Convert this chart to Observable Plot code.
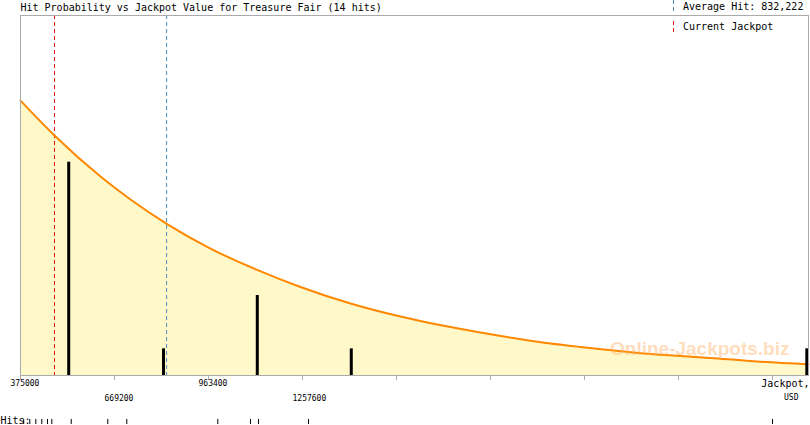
<!DOCTYPE html>
<html>
<head>
<meta charset="utf-8">
<script src="https://cdn.jsdelivr.net/npm/d3@7"></script>
<script src="https://cdn.jsdelivr.net/npm/@observablehq/plot@0.6"></script>
<style>
  html, body { margin: 0; padding: 0; background: #fff; }
  #wrap { position: relative; width: 810px; height: 425px; overflow: hidden; font-family: "DejaVu Sans Mono", monospace; }
  #wrap svg.plot { position: absolute; left: 0; top: 0; }
</style>
</head>
<body>
<div id="wrap"></div>
<script>
// ---- data ----
const titleText = "Hit Probability vs Jackpot Value for Treasure Fair (14 hits)";
const averageHit = 832222;
const currentJackpot = 481400;

// individual hits (jackpot value, USD)
const hits = [385000, 404100, 422900, 441700, 459500, 473000, 533700, 648200,
              707700, 992500, 1094800, 1119900, 1276400, 2728600];

// histogram bars (bin centre, count)
const binCenters = [525900, 822600, 1116100, 1410300, 2836000];
const binCounts  = [8, 1, 3, 1, 1];

// probability curve (jackpot value, expected-hit scale)
const curveX = [375000, 481400, 625400, 719300, 835100, 969700, 1113600, 1251300,
                1407800, 1564300, 1814700, 2033800, 2127700, 2346800, 2534400, 2659800, 2841300];
const curveY = [10.31, 9.00, 7.46, 6.60, 5.67, 4.76, 3.97, 3.32,
                2.70, 2.21, 1.61, 1.20, 1.07, 0.81, 0.66, 0.54, 0.42];

// axis ticks
const tickValues = [375000, 669200, 963400, 1257600, 1551800, 1846000, 2140200, 2434400, 2728600];
const tickLabels = ["375000", "669200", "963400", "1257600", "", "", "", "", ""];
const axisTitle1 = "Jackpot,";
const axisTitle2 = "USD";
const hitsLabel = "Hits:";
const watermark = "Online-Jackpots.biz";

// ---- build ----
const curve = curveX.map((x, i) => ({x, y: curveY[i]}));
const bars = binCenters.map((x, i) => ({x, n: binCounts[i]}));
const ticks = tickValues.map((v, i) => ({v, label: tickLabels[i], row: i % 2}));

const mono = "DejaVu Sans Mono";

const chart = Plot.plot({
  width: 810,
  height: 425,
  marginLeft: 20,
  marginRight: 2,
  marginTop: 15,
  marginBottom: 50,
  x: {domain: [375000, 2841300], axis: null},
  y: {domain: [0, 13.5], axis: null},
  style: {fontFamily: mono, fontSize: "10px", background: "white", overflow: "visible", color: "black"},
  marks: [
    Plot.areaY(curve, {x: "x", y: "y", fill: "#fff8c8", curve: "monotone-x"}),
    Plot.ruleX([currentJackpot], {stroke: "#dd1111", strokeWidth: 1, strokeDasharray: "4,3"}),
    Plot.ruleX([averageHit], {stroke: "#4a90c0", strokeWidth: 1, strokeDasharray: "4,3"}),
    Plot.line(curve, {x: "x", y: "y", stroke: "#ff8800", strokeWidth: 2, curve: "monotone-x"}),
    Plot.ruleX(bars, {x: "x", y1: 0, y2: "n", stroke: "black", strokeWidth: 3}),
    Plot.text([watermark], {frameAnchor: "bottom-right", text: d => d, textAnchor: "end", lineAnchor: "bottom",
      dx: -19, dy: -21, fontFamily: "Liberation Sans", fontWeight: "bold", fontSize: 19, fill: "#ffb366", fillOpacity: 0.45}),
    Plot.frame({stroke: "#aaaaaa"}),
    // axis ticks
    Plot.ruleX(tickValues, {stroke: "#aaaaaa", insetTop: 360, insetBottom: -5}),
    Plot.text(ticks.filter(d => d.row === 0), {x: "v", text: "label", frameAnchor: "bottom", textAnchor: "start", dx: -10, dy: 8, lineAnchor: "middle", fontSize: 8, fill: "black"}),
    Plot.text(ticks.filter(d => d.row === 1), {x: "v", text: "label", frameAnchor: "bottom", textAnchor: "start", dx: -10, dy: 23, lineAnchor: "middle", fontSize: 8, fill: "black"}),
    Plot.text([axisTitle1], {text: d => d, frameAnchor: "bottom-right", textAnchor: "end", lineAnchor: "middle", dx: 1, dy: 8, fontSize: 10, fill: "black"}),
    Plot.text([axisTitle2], {text: d => d, frameAnchor: "bottom-right", textAnchor: "end", lineAnchor: "middle", dx: -10, dy: 22, fontSize: 8, fill: "black"}),
    // hits row
    Plot.text([hitsLabel], {text: d => d, frameAnchor: "bottom-left", textAnchor: "start", lineAnchor: "middle", dx: -20, dy: 45, fontSize: 10, fill: "black"}),
    Plot.ruleX(hits, {x: d => d, stroke: "black", insetTop: 404, insetBottom: -49}),
    // title
    Plot.text([titleText], {text: d => d, frameAnchor: "top-left", textAnchor: "start", lineAnchor: "middle", dy: -8, fontSize: 10, fill: "black"})
  ]
});
chart.classList.add("plot");
const wrap = document.getElementById("wrap");
wrap.appendChild(chart);

// legend (top right)
const fmt = d3.format(",");
const legend = document.createElementNS("http://www.w3.org/2000/svg", "svg");
legend.setAttribute("width", 810);
legend.setAttribute("height", 40);
legend.style.position = "absolute";
legend.style.left = "0px";
legend.style.top = "0px";
legend.innerHTML =
  `<line x1="673.5" x2="673.5" y1="0" y2="12" stroke="#4a90c0" stroke-dasharray="4,3"/>` +
  `<line x1="673.5" x2="673.5" y1="21" y2="35" stroke="#dd1111" stroke-dasharray="4,3"/>` +
  `<text x="683" y="7" dy="0.32em" font-family="${mono}" font-size="10">Average Hit: ${fmt(averageHit)}</text>` +
  `<text x="683" y="27" dy="0.32em" font-family="${mono}" font-size="10">Current Jackpot</text>`;
wrap.appendChild(legend);
</script>
</body>
</html>
